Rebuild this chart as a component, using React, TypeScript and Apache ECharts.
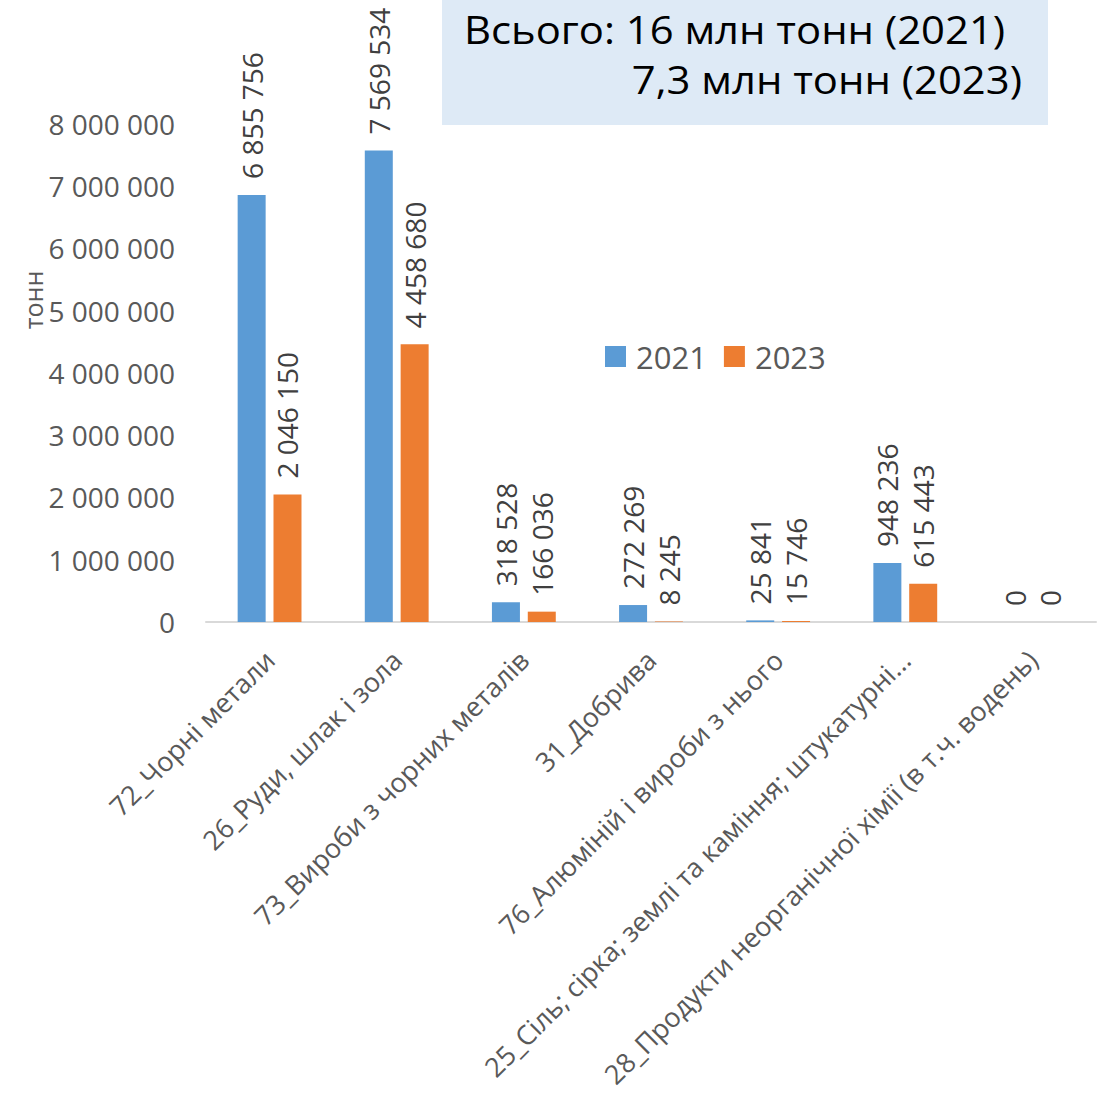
import React, { useEffect, useRef } from "react";
import * as echarts from "echarts";

const categories = [
  "72_Чорні метали",
  "26_Руди, шлак і зола",
  "73_Вироби з чорних металів",
  "31_Добрива",
  "76_Алюміній і вироби з нього",
  "25_Сіль; сірка; землі та каміння; штукатурні...",
  "28_Продукти неорганічної хімії (в т.ч. водень)",
];
const values2021 = [6855756, 7569534, 318528, 272269, 25841, 948236, 0];
const values2023 = [2046150, 4458680, 166036, 8245, 15746, 615443, 0];
const seriesNames = ["2021", "2023"];
const yMin = 0;
const yMax = 8000000;
const yInterval = 1000000;
const totalLine1 = "Всього: 16 млн тонн (2021)";
const totalLine2 = "7,3 млн тонн (2023)";
const yAxisTitle = "тонн";

const FONT = "'Open Sans', 'Noto Sans', sans-serif";
const fmt = (v: number) =>
  String(Math.round(v)).replace(/\B(?=(\d{3})+(?!\d))/g, " ");

export default function App() {
  const ref = useRef<HTMLDivElement>(null);
  useEffect(() => {
    if (!ref.current) return;
    const chart = echarts.init(ref.current, undefined, { renderer: "svg" });
    const label = {
      show: true,
      position: "top" as const,
      rotate: 90,
      align: "left",
      verticalAlign: "middle",
      distance: 16,
      fontSize: 28,
      fontFamily: FONT,
      color: "#404040",
      formatter: (p: any) => fmt(p.value),
    };
    chart.setOption({
      animation: false,
      backgroundColor: "#ffffff",
      textStyle: { fontFamily: FONT },
      grid: {
        left: 206,
        right: 14,
        top: 123.6,
        bottom: 481,
        containLabel: false,
        outerBoundsMode: "none",
      },
      legend: {
        left: 600,
        top: 336,
        itemWidth: 21,
        itemHeight: 21,
        itemGap: 17,
        icon: "rect",
        data: seriesNames,
        textStyle: {
          fontSize: 31,
          color: "#595959",
          fontFamily: FONT,
          padding: [0, 0, 0, 5],
        },
      },
      xAxis: {
        type: "category",
        data: categories,
        axisLine: { lineStyle: { color: "#D9D9D9", width: 2 } },
        axisTick: { show: false },
        axisLabel: {
          interval: 0,
          rotate: 45,
          margin: 33,
          padding: [34, 0, 0, 0],
          fontSize: 27,
          color: "#595959",
          fontFamily: FONT,
        },
      },
      yAxis: {
        type: "value",
        min: yMin,
        max: yMax,
        interval: yInterval,
        splitLine: { show: false },
        axisLine: { show: false },
        axisTick: { show: false },
        axisLabel: {
          margin: 31,
          fontSize: 28,
          color: "#595959",
          fontFamily: FONT,
          formatter: (v: number) => fmt(v),
        },
      },
      series: [
        {
          name: seriesNames[0],
          type: "bar",
          data: values2021,
          barWidth: 28,
          barGap: "28%",
          itemStyle: { color: "#5B9BD5" },
          label,
        },
        {
          name: seriesNames[1],
          type: "bar",
          data: values2023,
          barWidth: 28,
          barGap: "28%",
          itemStyle: { color: "#ED7D31" },
          label,
        },
      ],
      graphic: [
        {
          type: "rect",
          shape: { x: 442, y: 0, width: 606, height: 125 },
          style: { fill: "#DEEAF6" },
          z: 10,
        },
        {
          type: "text",
          x: 464,
          y: 29,
          scaleX: 1.1,
          z: 11,
          style: {
            text: totalLine1,
            fontSize: 38,
            fontFamily: FONT,
            fill: "#000000",
            align: "left",
            verticalAlign: "middle",
          },
        },
        {
          type: "text",
          x: 1022,
          y: 79,
          scaleX: 1.1,
          z: 11,
          style: {
            text: totalLine2,
            fontSize: 38,
            fontFamily: FONT,
            fill: "#000000",
            align: "right",
            verticalAlign: "middle",
          },
        },
        {
          type: "text",
          x: 33,
          y: 300,
          rotation: Math.PI / 2,
          style: {
            text: yAxisTitle,
            fontSize: 25,
            fontFamily: FONT,
            fill: "#595959",
            align: "center",
            verticalAlign: "middle",
          },
        },
      ],
    });
    return () => chart.dispose();
  }, []);
  return (
    <div
      ref={ref}
      style={{ position: "fixed", left: 0, top: 0, width: 1110, height: 1103 }}
    />
  );
}
